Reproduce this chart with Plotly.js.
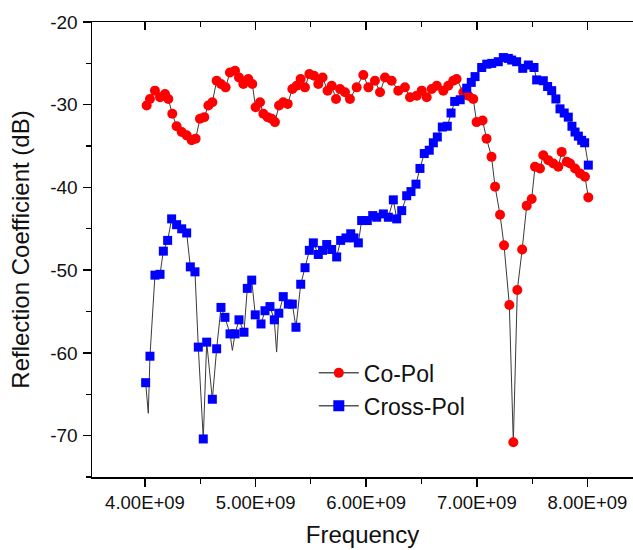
<!DOCTYPE html>
<html>
<head>
<meta charset="utf-8">
<script src="https://cdn.plot.ly/plotly-3.0.1.min.js"></script>
<style>html,body{margin:0;padding:0;background:#fff;}#chart{width:633px;height:550px;}</style>
</head>
<body>
<div id="chart"></div>
<script>
// Co-Pol (red circles)
const coFreq = [4.015e9,4.045e9,4.09e9,4.136e9,4.181e9,4.211e9,4.247e9,4.286e9,4.332e9,4.377e9,4.422e9,4.458e9,4.497e9,4.536e9,4.573e9,4.609e9,4.648e9,4.687e9,4.729e9,4.768e9,4.814e9,4.85e9,4.889e9,4.934e9,4.97e9,5.0e9,5.04e9,5.07e9,5.109e9,5.145e9,5.175e9,5.212e9,5.25e9,5.29e9,5.332e9,5.371e9,5.407e9,5.446e9,5.486e9,5.528e9,5.567e9,5.606e9,5.651e9,5.688e9,5.727e9,5.763e9,5.808e9,5.853e9,5.914e9,5.974e9,6.02e9,6.079e9,6.125e9,6.17e9,6.23e9,6.29e9,6.35e9,6.396e9,6.457e9,6.502e9,6.547e9,6.592e9,6.638e9,6.697e9,6.742e9,6.787e9,6.817e9,6.878e9,6.923e9,6.968e9,6.998e9,7.052e9,7.088e9,7.133e9,7.165e9,7.21e9,7.246e9,7.294e9,7.33e9,7.366e9,7.41e9,7.451e9,7.496e9,7.526e9,7.571e9,7.601e9,7.646e9,7.692e9,7.737e9,7.767e9,7.813e9,7.843e9,7.888e9,7.933e9,7.978e9,8.008e9];
const coVal = [-30.1,-29.3,-28.3,-29.1,-28.7,-29.3,-31.1,-32.6,-33.3,-33.7,-34.3,-34.1,-31.7,-31.5,-30.1,-29.7,-27.1,-27.5,-27.9,-26.1,-25.9,-26.7,-27.5,-26.9,-27.5,-30.3,-29.7,-31.1,-31.5,-31.7,-32.1,-30.1,-29.7,-29.9,-28.1,-27.7,-26.9,-27.9,-26.3,-26.5,-27.5,-26.7,-28.3,-27.7,-29.3,-28.1,-28.5,-29.3,-27.9,-26.4,-27.9,-27.1,-28.5,-26.7,-27.1,-28.3,-27.9,-29.1,-28.9,-28.3,-29.1,-28.1,-27.7,-28.3,-27.7,-27.1,-26.9,-28.5,-28.9,-29.3,-32.1,-31.9,-34.1,-36.3,-39.9,-43.3,-47.0,-54.2,-70.8,-52.4,-47.5,-42.2,-41.4,-37.5,-37.7,-36.1,-36.7,-37.1,-37.5,-35.7,-36.9,-37.1,-37.7,-38.3,-38.7,-41.2];

// Cross-Pol (blue squares)
const crossFreq = [4.006e9,4.045e9,4.09e9,4.136e9,4.166e9,4.205e9,4.241e9,4.286e9,4.332e9,4.377e9,4.41e9,4.452e9,4.482e9,4.527e9,4.558e9,4.609e9,4.648e9,4.687e9,4.723e9,4.769e9,4.814e9,4.85e9,4.895e9,4.925e9,4.965e9,4.997e9,5.049e9,5.085e9,5.13e9,5.169e9,5.21e9,5.25e9,5.296e9,5.332e9,5.365e9,5.408e9,5.447e9,5.486e9,5.522e9,5.567e9,5.605e9,5.643e9,5.688e9,5.733e9,5.769e9,5.817e9,5.86e9,5.89e9,5.929e9,5.959e9,6.01e9,6.059e9,6.095e9,6.155e9,6.2e9,6.245e9,6.276e9,6.321e9,6.366e9,6.405e9,6.45e9,6.486e9,6.525e9,6.57e9,6.607e9,6.643e9,6.688e9,6.733e9,6.767e9,6.80e9,6.85e9,6.909e9,6.95e9,6.984e9,7.044e9,7.09e9,7.135e9,7.194e9,7.24e9,7.285e9,7.315e9,7.36e9,7.415e9,7.466e9,7.517e9,7.541e9,7.601e9,7.64e9,7.677e9,7.715e9,7.752e9,7.79e9,7.827e9,7.86e9,7.888e9,7.918e9,7.948e9,7.975e9,8.008e9];
const crossVal = [-63.6,-60.4,-50.6,-50.5,-47.7,-46.4,-43.8,-44.5,-45.0,-45.5,-49.6,-50.2,-59.3,-70.4,-58.7,-65.6,-59.5,-54.5,-55.7,-57.7,-57.7,-56.0,-57.5,-52.2,-51.2,-55.4,-56.5,-54.9,-54.4,-56.0,-55.2,-53.2,-54.1,-54.1,-56.9,-51.7,-49.7,-47.6,-46.7,-48.1,-47.6,-46.9,-47.5,-48.4,-46.4,-46.1,-45.6,-46.1,-46.7,-44.0,-44.0,-43.4,-43.6,-43.2,-43.6,-41.5,-43.8,-42.8,-41.0,-40.5,-39.6,-37.7,-35.9,-35.5,-34.6,-33.9,-32.7,-32.6,-31.0,-29.6,-29.4,-28.0,-27.3,-26.6,-25.5,-25.1,-25.0,-24.8,-24.3,-24.4,-24.6,-24.8,-25.6,-25.2,-25.5,-27.0,-27.1,-27.8,-28.3,-29.3,-30.5,-31.0,-31.5,-32.6,-33.3,-33.8,-34.3,-34.6,-37.3];
// narrow dips in the connecting line (no marker drawn there)
const crossDipFreq = [4.03e9, 4.79e9, 5.19e9];
const crossDipVal = [-67.3, -59.7, -59.9];

const xTickVals = [4e9,5e9,6e9,7e9,8e9];
const xTickText = ['4.00E+09','5.00E+09','6.00E+09','7.00E+09','8.00E+09'];
const xMinorVals = [3.5e9,4.5e9,5.5e9,6.5e9,7.5e9];
const yTickVals = [-70,-60,-50,-40,-30,-20];
const yTickText = ['-70','-60','-50','-40','-30','-20'];
const yMinorVals = [-75,-65,-55,-45,-35,-25];

function mergeLine(xa, ya, xb, yb) {
  const pts = xa.map((x,i)=>[x,ya[i]]).concat(xb.map((x,i)=>[x,yb[i]]));
  pts.sort((a,b)=>a[0]-b[0]);
  return {x: pts.map(p=>p[0]), y: pts.map(p=>p[1])};
}
const crossLine = mergeLine(crossFreq, crossVal, crossDipFreq, crossDipVal);

const lineStyle = {color:'#3a3a3a', width:1};
const FONT = 'Liberation Sans, Arial, sans-serif';

const traces = [
  {x: coFreq, y: coVal, mode:'lines', line: lineStyle, showlegend:false, hoverinfo:'skip'},
  {x: coFreq, y: coVal, mode:'markers', marker:{symbol:'circle', size:10, color:'#ff0000'}, showlegend:false},
  {x: crossLine.x, y: crossLine.y, mode:'lines', line: lineStyle, showlegend:false, hoverinfo:'skip'},
  {x: crossFreq, y: crossVal, mode:'markers', marker:{symbol:'square', size:9, color:'#0000ff'}, showlegend:false},
  {x:[null], y:[null], mode:'lines+markers', name:'Co-Pol', line:{color:'#555', width:1.5}, marker:{symbol:'circle', size:10, color:'#ff0000'}},
  {x:[null], y:[null], mode:'lines+markers', name:'Cross-Pol', line:{color:'#555', width:1.5}, marker:{symbol:'square', size:11, color:'#0000ff'}}
];

const layout = {
  width:633, height:550,
  margin:{l:92, r:0, t:22, b:73},
  paper_bgcolor:'#fff', plot_bgcolor:'#fff',
  font:{family:FONT, color:'#111'},
  showlegend:true,
  legend:{x:0.41, y:0.276, xanchor:'left', yanchor:'top', bgcolor:'rgba(0,0,0,0)', font:{size:23, family:FONT, color:'#111'}, tracegroupgap:0, itemwidth:40},
  xaxis:{
    range:[3.521e9, 8.412e9], showgrid:false, zeroline:false,
    showline:true, linecolor:'#000', linewidth:1.5,
    ticks:'outside', ticklen:8, tickwidth:1.5, tickcolor:'#000',
    tickmode:'array', tickvals:xTickVals, ticktext:xTickText,
    tickfont:{size:18.5, family:FONT, color:'#111'},
    minor:{tickmode:'array', tickvals:xMinorVals, ticks:'outside', ticklen:5, tickwidth:1.2, tickcolor:'#000', showgrid:false},
    title:{text:'Frequency', font:{size:24, family:FONT, color:'#111'}, standoff:14}
  },
  xaxis2:{
    overlaying:'x', matches:'x', side:'top', showgrid:false, zeroline:false,
    showline:true, linecolor:'#000', linewidth:1.5,
    ticks:'inside', ticklen:8, tickwidth:1.5, tickcolor:'#000',
    tickmode:'array', tickvals:xTickVals, showticklabels:false,
    minor:{tickmode:'array', tickvals:xMinorVals, ticks:'inside', ticklen:5, tickwidth:1.2, tickcolor:'#000', showgrid:false}
  },
  yaxis:{
    range:[-75,-20], showgrid:false, zeroline:false,
    showline:true, linecolor:'#000', linewidth:1.5,
    ticks:'outside', ticklen:8, tickwidth:1.5, tickcolor:'#000',
    tickmode:'array', tickvals:yTickVals, ticktext:yTickText,
    tickfont:{size:19, family:FONT, color:'#111'},
    ticklabelstandoff:1,
    minor:{tickmode:'array', tickvals:yMinorVals, ticks:'outside', ticklen:5, tickwidth:1.2, tickcolor:'#000', showgrid:false},
    title:{text:'Reflection Coefficient (dB)', font:{size:24, family:FONT, color:'#111'}, standoff:14}
  }
};

traces.push({x:[null], y:[null], xaxis:'x2', mode:'markers', showlegend:false, hoverinfo:'skip'});

Plotly.newPlot('chart', traces, layout, {displayModeBar:false, staticPlot:true});
</script>
</body>
</html>
